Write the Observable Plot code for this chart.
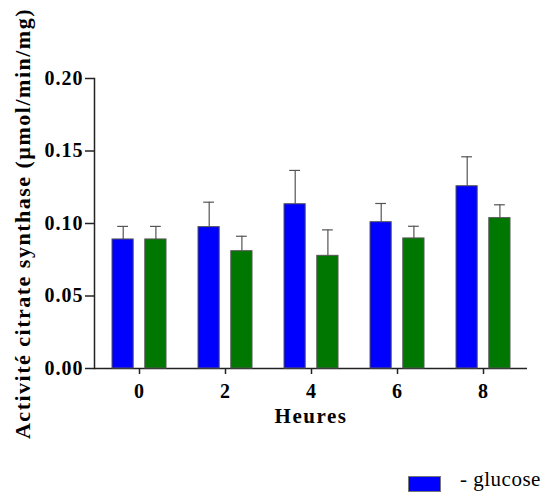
<!DOCTYPE html>
<html>
<head>
<meta charset="utf-8">
<script src="https://cdn.jsdelivr.net/npm/d3@7"></script>
<script src="https://cdn.jsdelivr.net/npm/@observablehq/plot@0.6"></script>
<style>
  body { margin: 0; background: #fff; }
  #legend { position: relative; height: 27px; font-family: "Liberation Serif", serif; font-size: 21px; letter-spacing: 0.5px; }
  #legend .sw { position: absolute; left: 408px; top: 6px; width: 31px; height: 14px; background: #0000ff; border: 1px solid #777; }
  #legend .lb { position: absolute; left: 460px; top: -3px; white-space: nowrap; }
</style>
</head>
<body>
<div id="chart"></div>
<div id="legend"><div class="sw"></div><div class="lb">- glucose</div></div>
<script>
const hours = ["0", "2", "4", "6", "8"];
const minusGlucose = [0.089, 0.0975, 0.1133, 0.1009, 0.1257];
const minusGlucoseErr = [0.009, 0.0172, 0.0233, 0.0129, 0.0203];
const plusGlucose = [0.089, 0.0809, 0.0777, 0.0897, 0.1037];
const plusGlucoseErr = [0.009, 0.0103, 0.0179, 0.0084, 0.0092];
const yTicks = [0, 0.05, 0.10, 0.15, 0.20];
const yLabel = "Activité citrate synthase (µmol/min/mg)";
const xLabel = "Heures";

const blue = hours.map((h, i) => ({hour: h, value: minusGlucose[i], err: minusGlucoseErr[i]}));
const green = hours.map((h, i) => ({hour: h, value: plusGlucose[i], err: plusGlucoseErr[i]}));

const barW = 32.8;
const chart = Plot.plot({
  width: 547,
  height: 470,
  marginLeft: 94,
  marginRight: 20,
  marginTop: 78,
  marginBottom: 102,
  style: {fontFamily: "Liberation Serif, serif", fontWeight: "bold", color: "#000", background: "#fff"},
  x: {type: "band", domain: hours, paddingInner: 0.374, paddingOuter: 0.19},
  y: {domain: [0, 0.2]},
  marks: [
    Plot.axisX({label: null, tickSize: 6, tickPadding: 9, fontSize: 20, fontWeight: "bold", stroke: "#222", strokeWidth: 1.5}),
    Plot.axisY({ticks: yTicks, tickFormat: d3.format(".2f"), label: null, tickSize: 9, tickPadding: 2, fontSize: 20, fontWeight: "bold", stroke: "#222", strokeWidth: 1.5}),
    Plot.ruleY([0], {stroke: "#222", strokeWidth: 1.5}),
    Plot.frame({anchor: "left", stroke: "#222", strokeWidth: 1.5}),
    Plot.ruleX(blue, {x: "hour", y1: "value", y2: d => d.value + d.err, dx: -16.3, stroke: "#555", strokeWidth: 1.2}),
    Plot.tickY(blue, {x: "hour", y: d => d.value + d.err, insetLeft: 5.2, insetRight: 38, stroke: "#555", strokeWidth: 1.2}),
    Plot.ruleX(green, {x: "hour", y1: "value", y2: d => d.value + d.err, dx: 16.4, stroke: "#555", strokeWidth: 1.2}),
    Plot.tickY(green, {x: "hour", y: d => d.value + d.err, insetLeft: 38, insetRight: 5.2, stroke: "#555", strokeWidth: 1.2}),
    Plot.barY(blue, {x: "hour", y: "value", insetRight: barW, insetLeft: 0, fill: "#0000ff", stroke: "#555", strokeWidth: 1}),
    Plot.barY(green, {x: "hour", y: "value", insetLeft: barW, insetRight: 0, fill: "#007700", stroke: "#555", strokeWidth: 1}),
    Plot.text([yLabel], {frameAnchor: "left", textAnchor: "middle", rotate: -90, dx: -72, fontSize: 22, fontWeight: "bold", text: d => d}),
    Plot.text([xLabel], {frameAnchor: "bottom", textAnchor: "middle", dy: 54, fontSize: 21, fontWeight: "bold", text: d => d})
  ]
});
const svg = d3.select(chart);
svg.selectAll("g[aria-label='x-axis tick label'], g[aria-label='y-axis tick label']").style("letter-spacing", "1px");
svg.selectAll("g[aria-label='text']").style("letter-spacing", "1.5px");
document.getElementById("chart").appendChild(chart);
</script>
</body>
</html>
